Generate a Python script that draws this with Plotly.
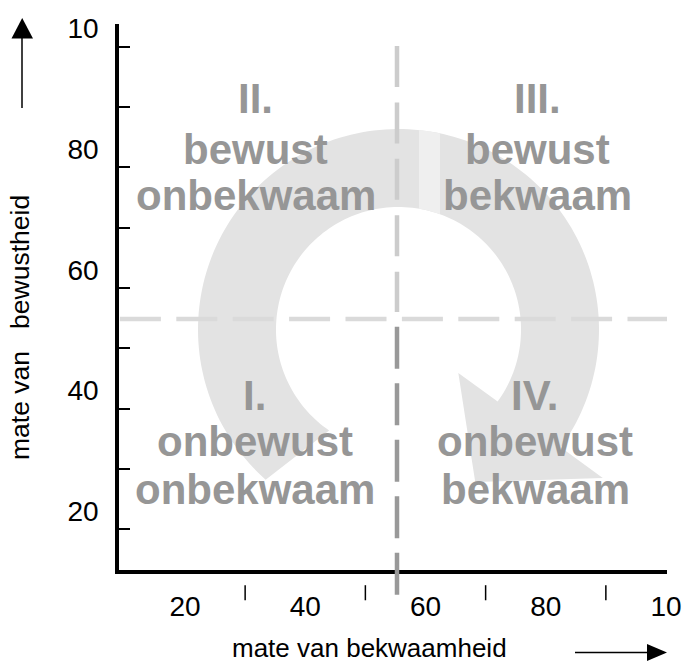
import numpy as np
import plotly.graph_objects as go

FONT = "Liberation Sans, Arial, sans-serif"

# ---------------- data ----------------
x_tick_values = [20, 40, 60, 80, 100]
x_tick_labels = ["20", "40", "60", "80", "10"]
y_tick_values = [20, 40, 60, 80, 100]
y_tick_labels = ["20", "40", "60", "80", "10"]
x_minor_ticks = [30, 50, 70, 90]
y_minor_ticks = [17, 27, 37, 47, 57, 67, 77, 87, 97]

x_split = 55.26   # vertical divider (bekwaamheid)
y_split = 51.84   # horizontal divider (bewustheid)

quadrant_titles = ["I.", "II.", "III.", "IV."]
quadrant_word1 = ["onbewust", "bewust", "bewust", "onbewust"]
quadrant_word2 = ["onbekwaam", "onbekwaam", "bekwaam", "bekwaam"]

x_title = "mate van bekwaamheid"
y_title = "mate van\u00a0\u00a0 bewustheid"

# ---------------- geometry / styling ----------------
X_RANGE = [9.02, 100.17]
Y_RANGE = [10.22, 100.76]
W, H = 685, 663
M = dict(l=119, r=18, t=24, b=93)
PW = W - M["l"] - M["r"]
PH = H - M["t"] - M["b"]
KX = PW / (X_RANGE[1] - X_RANGE[0])
KY = PH / (Y_RANGE[1] - Y_RANGE[0])

# label anchor positions (data units)
quad_x = [31.6, 31.75, 78.7, 78.25]
quad_y_lower = [39.1, 31.45, 23.49]
quad_y_upper = [88.4, 80.0, 72.3]
TICK_ROW = (7.7, 5.2)   # detached x tick marks, data-y extent (below the axis)


def yd2paper(v):
    return (v - Y_RANGE[0]) / (Y_RANGE[1] - Y_RANGE[0])


def px_x(p):
    return (p - M["l"]) / PW


def px_y(p):
    return (H - M["b"] - p) / PH


# circular arrow (data units, radius in x-units)
RING_CX, RING_CY = 55.51, 50.10
R_OUT, R_IN = 33.35, 20.38
TAIL_OUT, TAIL_IN = 131.5, 124.5
HEAD_BASE = 36.0 + 360
BARB_OUT, BARB_IN = 42.0, 12.3
TIP_R, TIP_ANG = 28.4, 63.3 + 360
ASP = KX / KY


def pt(r, ang):
    a = np.radians(ang)
    return RING_CX + r * np.cos(a), RING_CY - r * np.sin(a) * ASP


def path_from(points):
    s = "M " + " L ".join(f"{x:.3f},{y:.3f}" for x, y in points)
    return s + " Z"


ring_pts = [pt(R_OUT, a) for a in np.linspace(TAIL_OUT, HEAD_BASE, 160)]
ring_pts += [pt(BARB_OUT, HEAD_BASE), pt(TIP_R, TIP_ANG), pt(BARB_IN, HEAD_BASE)]
ring_pts += [pt(R_IN, a) for a in np.linspace(HEAD_BASE, TAIL_IN, 160)]

band_x = np.linspace(58.92, 62.41, 12)
band_pts = [(x, RING_CY + np.sqrt(R_OUT**2 - (x - RING_CX) ** 2) * ASP) for x in band_x]
band_pts += [(x, RING_CY + np.sqrt(R_IN**2 - (x - RING_CX) ** 2) * ASP) for x in band_x[::-1]]

shapes = [
    dict(type="path", xref="x", yref="y", path=path_from(ring_pts),
         fillcolor="#e3e3e3", line=dict(width=0), layer="below"),
    dict(type="path", xref="x", yref="y", path=path_from(band_pts),
         fillcolor="#efefef", line=dict(width=0), layer="below"),
    # horizontal divider
    dict(type="line", xref="x", yref="y", x0=9.17, x1=X_RANGE[1], y0=y_split, y1=y_split,
         line=dict(color="#dadada", width=4.5, dash="41px,15.4px"), layer="below"),
    # vertical divider, upper part
    dict(type="line", xref="x", yref="y", x0=x_split, x1=x_split, y0=97.1, y1=y_split + 1.15,
         line=dict(color="#cccccc", width=4.5, dash="41px,15.4px"), layer="below"),
    # vertical divider, lower part (extends below axis)
    dict(type="line", xref="x", yref="paper", x0=x_split, x1=x_split,
         y0=yd2paper(y_split - 1.3), y1=yd2paper(5.6),
         line=dict(color="#999999", width=4.5, dash="42px,14.5px"), layer="above"),
    # up arrow
    dict(type="line", xref="paper", yref="paper", x0=px_x(22), x1=px_x(22), y0=px_y(108), y1=px_y(36),
         line=dict(color="black", width=1.5)),
    dict(type="path", xref="paper", yref="paper",
         path=f"M {px_x(11.5)},{px_y(38.5)} L {px_x(33)},{px_y(38.5)} L {px_x(22.2)},{px_y(18)} Z",
         fillcolor="black", line=dict(width=0)),
    # right arrow
    dict(type="line", xref="paper", yref="paper", x0=px_x(575), x1=px_x(650), y0=px_y(652.5), y1=px_y(652.5),
         line=dict(color="black", width=1.5)),
    dict(type="path", xref="paper", yref="paper",
         path=f"M {px_x(647)},{px_y(644)} L {px_x(647)},{px_y(661)} L {px_x(667)},{px_y(652.5)} Z",
         fillcolor="black", line=dict(width=0)),
]
# detached x tick marks below the axis
for xv in x_minor_ticks:
    shapes.append(dict(type="line", xref="x", yref="paper", x0=xv, x1=xv,
                       y0=yd2paper(TICK_ROW[0]), y1=yd2paper(TICK_ROW[1]),
                       line=dict(color="black", width=1.5)))

annotations = []
qfont = dict(family=FONT, size=42, color="#969696", weight="bold")
for i in range(4):
    ys = quad_y_lower if i in (0, 3) else quad_y_upper
    for txt, yy in zip([quadrant_titles[i], quadrant_word1[i], quadrant_word2[i]], ys):
        annotations.append(dict(x=quad_x[i], y=yy, xref="x", yref="y", text=txt, showarrow=False,
                                xanchor="center", yanchor="middle", font=qfont))

annotations.append(dict(x=px_x(369), y=px_y(648), xref="paper", yref="paper", text=x_title,
                        showarrow=False, xanchor="center", yanchor="middle",
                        font=dict(family=FONT, size=26, color="black")))
annotations.append(dict(x=px_x(20), y=px_y(328), xref="paper", yref="paper", text=y_title,
                        showarrow=False, xanchor="center", yanchor="middle", textangle=-90,
                        font=dict(family=FONT, size=26.5, color="black")))

fig = go.Figure()
fig.add_trace(go.Scatter(x=[None], y=[None], mode="markers", hoverinfo="skip", showlegend=False))

fig.update_layout(
    width=W, height=H, margin=dict(l=M["l"], r=M["r"], t=M["t"], b=M["b"], autoexpand=False),
    paper_bgcolor="white", plot_bgcolor="white", showlegend=False,
    shapes=shapes, annotations=annotations,
    xaxis=dict(range=X_RANGE, showgrid=False, zeroline=False, showline=True, linecolor="black",
               linewidth=3.5, tickmode="array", tickvals=x_tick_values, ticktext=x_tick_labels,
               ticks="", ticklabelstandoff=9, automargin=False, fixedrange=True,
               tickfont=dict(family=FONT, size=28, color="black")),
    yaxis=dict(range=Y_RANGE, showgrid=False, zeroline=False, showline=True, linecolor="black",
               linewidth=3.5, tickmode="array", tickvals=y_tick_values, ticktext=y_tick_labels,
               ticks="", ticklabelstandoff=11, automargin=False, fixedrange=True,
               tickfont=dict(family=FONT, size=28, color="black"),
               minor=dict(tickmode="array", tickvals=y_minor_ticks, ticks="inside",
                          ticklen=11, tickwidth=1.5, tickcolor="black")),
)

fig.write_html("out.html", config={"displayModeBar": False},
               post_script="document.body.style.margin='0px';")
